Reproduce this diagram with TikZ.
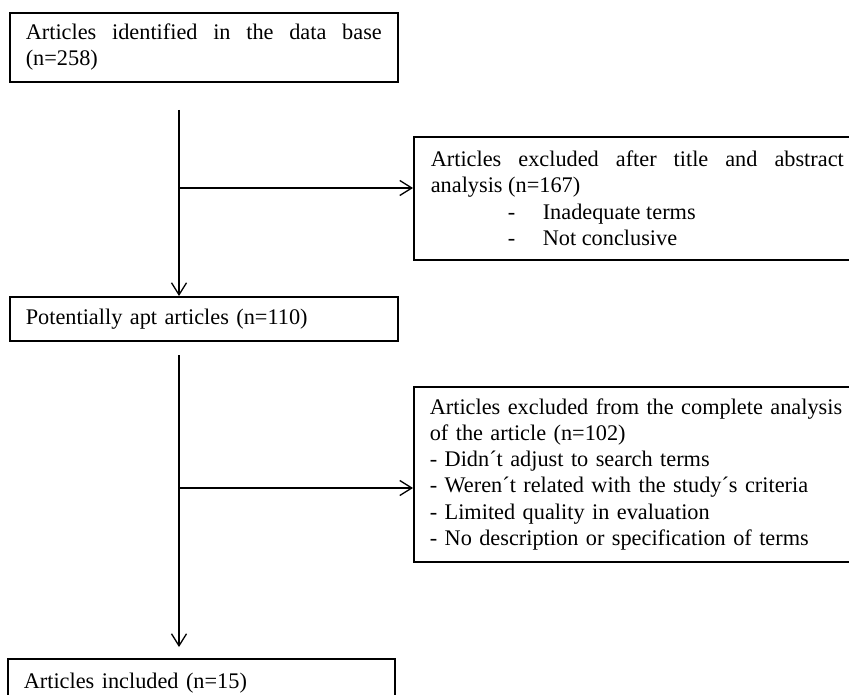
\documentclass[tikz,border=0pt]{standalone}
\usepackage{fontspec}
\setmainfont{Liberation Serif}
\usetikzlibrary{arrows.meta}
\begin{document}
\begin{tikzpicture}[x=1pt,y=-1pt,
  box/.style={draw, line width=1.6pt, anchor=north west, inner xsep=16pt, inner ysep=0pt,
    font=\fontsize{22.3}{26.3}\selectfont},
  arr/.style={line width=1.3pt, -{Straight Barb[length=12pt,width=15pt]}}]
\useasboundingbox (0,0) rectangle (849,695);
\clip (0,0) rectangle (849,695);
\fill[white] (0,0) rectangle (849,695);

\node[box, text width=356pt, align=justify, minimum height=69pt] (b1) at (9,12)
  {Articles identified in the data base\linebreak (n=258)};
\node[box, inner xsep=17pt, text width=413pt, align=justify, minimum height=123pt] (b2) at (413,136)
  {Articles excluded after title and abstract\linebreak analysis (n=167)\\
   \hspace*{77pt}\makebox[35pt][l]{-}Inadequate terms\\
   \hspace*{77pt}\makebox[35pt][l]{-}Not conclusive};
\node[box, text width=356pt, align=left, minimum height=44pt] (b3) at (9,296)
  {Potentially apt articles (n=110)};
\node[box, inner xsep=16pt, text width=440pt, align=left, minimum height=175pt] (b4) at (413,386)
  {Articles excluded from the complete analysis\\
   of the article (n=102)\\
   - Didn´t adjust to search terms\\
   - Weren´t related with the study´s criteria\\
   - Limited quality in evaluation\\
   - No description or specification of terms};
\node[box, text width=355pt, align=left, minimum height=48pt] (b5) at (7,658)
  {Articles included (n=15)};

\coordinate (s1) at (179,110);
\coordinate (j1) at (179,188);
\coordinate (s2) at (179,355);
\coordinate (j2) at (179,488);
\coordinate (e2) at (179,647);

\draw[arr] (s1) -- (s1 |- b3.north);
\draw[arr] (j1) -- (j1 -| b2.west);
\draw[arr] (s2) -- (e2);
\draw[arr] (j2) -- (j2 -| b4.west);
\end{tikzpicture}
\end{document}
